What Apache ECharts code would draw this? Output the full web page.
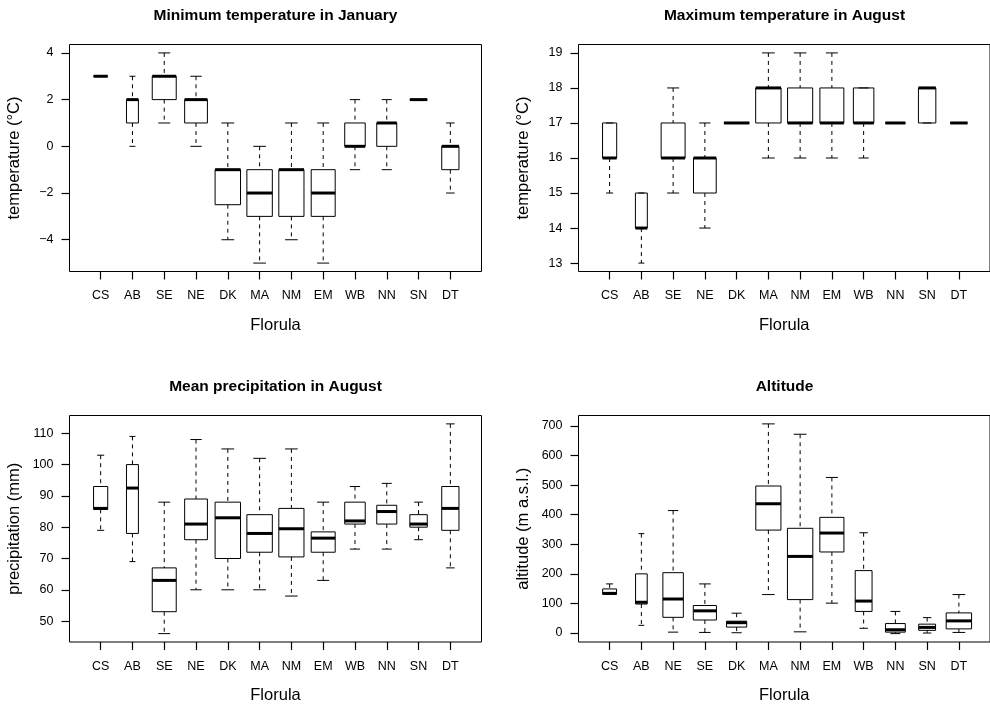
<!DOCTYPE html>
<html><head><meta charset="utf-8">
<script src="https://cdn.jsdelivr.net/npm/echarts@6/dist/echarts.min.js"></script>
<style>html,body{margin:0;padding:0;background:#fff}#c{width:990px;height:705px}</style>
</head><body><div id="c"></div>
<script>
// ---- categories ----
const florulaA = ['CS','AB','SE','NE','DK','MA','NM','EM','WB','NN','SN','DT'];
const florulaB = ['CS','AB','NE','SE','DK','MA','NM','EM','WB','NN','SN','DT'];
// ---- estimated sample sizes (box widths ~ sqrt(n), varwidth boxplot) ----
const sampleSizeA = [31,22,89,80,100,100,98,89,65,62,47,46];
const sampleSizeB = [30,21,65,83,63,98,100,90,44,61,44,100];
// ---- five-number summaries [min, Q1, median, Q3, max] ----
const minTempJan = [[3,3,3,3,3],[0,1,2,2,3],[1,2,3,3,4],[0,1,2,2,3],[-4,-2.5,-1,-1,1],[-5,-3,-2,-1,0],[-4,-3,-1,-1,1],[-5,-3,-2,-1,1],[-1,0,0,1,2],[-1,0,1,1,2],[2,2,2,2,2],[-2,-1,0,0,1]];
const maxTempAug = [[15,16,16,17,17],[13,14,14,15,15],[15,16,16,17,18],[14,15,16,16,17],[17,17,17,17,17],[16,17,18,18,19],[16,17,17,18,19],[16,17,17,18,19],[16,17,17,18,18],[17,17,17,17,17],[17,17,18,18,18],[17,17,17,17,17]];
const precipAug = [[79,85.7,86,93,103],[69,78,92.5,100,109],[46,53,63,67,88],[60,76,81,89,108],[60,70,83,88,105],[60,72,78,84,102],[58,70.5,79.5,86,105],[63,72,76.5,78.5,88],[73,81,82,88,93],[73,81,85,87,94],[76,80,81,84,88],[67,79,86,93,113]];
const altitude = [[131,131,134,149,166],[26,98,104,200,336],[3,53,115,204,414],[2,44,75,93,166],[1,20,35,40,67],[130,348,437,497,707],[4,113,259,354,672],[101,274,338,391,526],[16,73,108,211,339],[-2,3,11,32,73],[0,9,19,30,52],[2,14,41,68,130]];
// ---- tick labels ----
const yTicksMinT = [-4,-2,0,2,4];
const yTicksMaxT = [13,14,15,16,17,18,19];
const yTicksPrec = [50,60,70,80,90,100,110];
const yTicksAlt = [0,100,200,300,400,500,600,700];
// ---- texts ----
const titles = ['Minimum temperature in January','Maximum temperature in August','Mean precipitation in August','Altitude'];
const yNames = ['temperature (°C)','temperature (°C)','precipitation (mm)','altitude (m a.s.l.)'];
const xName = 'Florula';

const FONT = '"Liberation Sans", Arial, Helvetica, sans-serif';
const W = 412;
const panels = [
  {cats: florulaA, n: sampleSizeA, stats: minTempJan, ticks: yTicksMinT, left: 69.5, top: 44.5, height: 227},
  {cats: florulaA, n: sampleSizeA, stats: maxTempAug, ticks: yTicksMaxT, left: 578.5, top: 44.5, height: 227},
  {cats: florulaA, n: sampleSizeA, stats: precipAug, ticks: yTicksPrec, left: 69.5, top: 415.5, height: 227},
  {cats: florulaB, n: sampleSizeB, stats: altitude, ticks: yTicksAlt, left: 578.5, top: 415.5, height: 227}
];

function extent(stats){
  let lo = Infinity, hi = -Infinity;
  stats.forEach(s => { lo = Math.min(lo, s[0]); hi = Math.max(hi, s[4]); });
  const d = (hi - lo) * 0.04;
  return [lo - d, hi + d];
}

function renderBox(params, api){
  const x = api.value(0);
  const lo = api.value(1), q1 = api.value(2), md = api.value(3), q3 = api.value(4), hi = api.value(5), rel = api.value(6);
  const unit = api.size([1, 0])[0];
  const w = unit * 0.8 * rel;
  const half = w / 2, st = w / 4;
  const cx = api.coord([x, md])[0];
  const y = v => api.coord([x, v])[1];
  const dash = {stroke: '#000', lineWidth: 1, lineDash: [4, 4]};
  const solid = {stroke: '#000', lineWidth: 1};
  const ch = [];
  if (hi > q3) ch.push({type: 'line', shape: {x1: cx, y1: y(hi), x2: cx, y2: y(q3)}, style: dash});
  if (lo < q1) ch.push({type: 'line', shape: {x1: cx, y1: y(q1), x2: cx, y2: y(lo)}, style: dash});
  ch.push({type: 'line', shape: {x1: cx - st, y1: y(hi), x2: cx + st, y2: y(hi)}, style: solid});
  ch.push({type: 'line', shape: {x1: cx - st, y1: y(lo), x2: cx + st, y2: y(lo)}, style: solid});
  ch.push({type: 'rect', shape: {x: cx - half, y: y(q3), width: w, height: y(q1) - y(q3)}, style: {fill: 'none', stroke: '#000', lineWidth: 1}});
  ch.push({type: 'line', shape: {x1: cx - half, y1: y(md), x2: cx + half, y2: y(md)}, style: {stroke: '#000', lineWidth: 3}});
  return {type: 'group', children: ch};
}

const fmt = v => v < 0 ? '\u2212' + Math.abs(v) : String(v);

const option = {animation: false, backgroundColor: '#fff', textStyle: {fontFamily: FONT},
  grid: [], xAxis: [], yAxis: [], series: [], graphic: []};

panels.forEach((p, i) => {
  option.grid.push({left: p.left, top: p.top, width: W, height: p.height, show: true,
    borderColor: '#000', borderWidth: 1, backgroundColor: 'transparent'});
  const cats = p.cats;
  const xs = cats.map((c, k) => k + 1);
  option.xAxis.push({type: 'value', gridIndex: i, position: 'bottom', min: 0.02, max: 12.98,
    name: xName, nameLocation: 'middle', nameGap: 45,
    nameTextStyle: {fontSize: 16.5, color: '#000', fontFamily: FONT},
    axisLine: {show: false, onZero: false}, splitLine: {show: false},
    axisTick: {show: true, inside: false, length: 8, lineStyle: {color: '#000', width: 1.2}, customValues: xs},
    axisLabel: {show: true, customValues: xs, formatter: v => cats[Math.round(v) - 1] || '',
      fontSize: 12.5, color: '#000', margin: 18, fontFamily: FONT}});
  const ext = extent(p.stats);
  option.yAxis.push({type: 'value', gridIndex: i, position: 'left', min: ext[0], max: ext[1],
    name: yNames[i], nameLocation: 'middle', nameGap: 47, nameRotate: 90,
    nameTextStyle: {fontSize: 16.5, color: '#000', fontFamily: FONT},
    axisLine: {show: false, onZero: false}, splitLine: {show: false},
    axisTick: {show: true, inside: false, length: 8, lineStyle: {color: '#000', width: 1.2}, customValues: p.ticks},
    axisLabel: {show: true, customValues: p.ticks, formatter: fmt, fontSize: 12.5, color: '#000', margin: 16, fontFamily: FONT}});
  const maxN = Math.max.apply(null, p.n);
  option.series.push({type: 'custom', xAxisIndex: i, yAxisIndex: i, renderItem: renderBox, silent: true,
    data: p.stats.map((s, k) => [k + 1, s[0], s[1], s[2], s[3], s[4], Math.sqrt(p.n[k] / maxN)]),
    encode: {x: 0, y: [1, 2, 3, 4, 5]}});
  option.graphic.push({type: 'text', x: p.left + W / 2, y: p.top - 29,
    style: {text: titles[i], font: 'bold 15.5px ' + FONT, textAlign: 'center', textVerticalAlign: 'middle', fill: '#000'}});
});

const chart = echarts.init(document.getElementById('c'), null, {renderer: 'canvas'});
chart.setOption(option);
</script></body></html>
